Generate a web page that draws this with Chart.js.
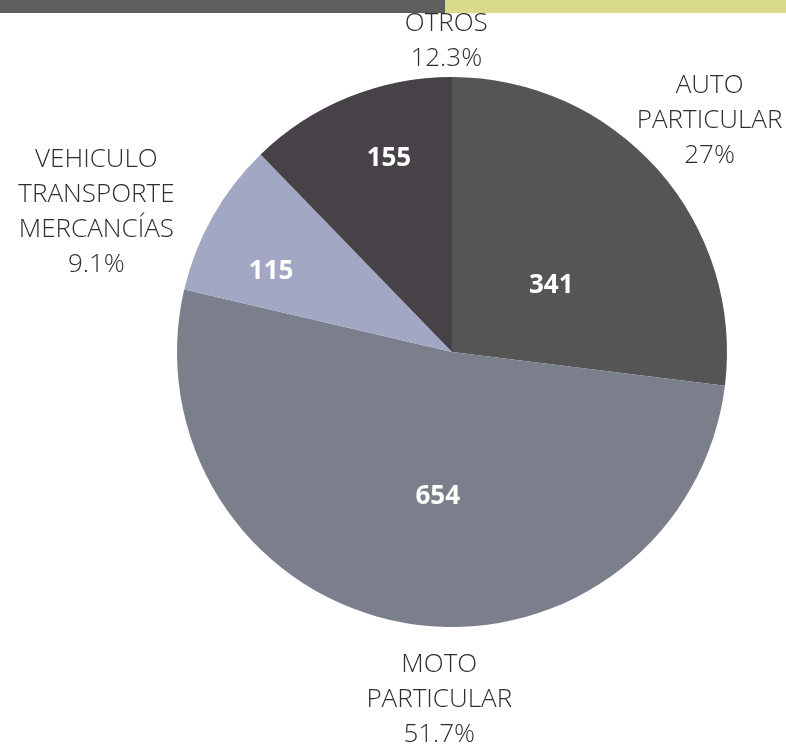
<!DOCTYPE html>
<html>
<head>
<meta charset="utf-8">
<script src="https://cdn.jsdelivr.net/npm/chart.js@4"></script>
<style>
  html, body { margin: 0; padding: 0; background: #fff; }
  #wrap { position: relative; width: 786px; height: 748px; }
  .bar { position: absolute; top: 0; height: 13px; }
</style>
</head>
<body>
<div id="wrap">
  <div class="bar" style="left:0;width:445px;background:#5f5f5f"></div>
  <div class="bar" style="left:445px;width:341px;background:#d9db8b"></div>
  <canvas id="chartVeh" width="786" height="748"></canvas>
</div>
<script>
// datos
const categorias = [["AUTO", "PARTICULAR"], ["MOTO", "PARTICULAR"], ["VEHICULO", "TRANSPORTE", "MERCANCÍAS"], ["OTROS"]];
const valores = [341, 654, 115, 155];
const porcentajes = ["27%", "51.7%", "9.1%", "12.3%"];
const colores = ["#555555", "#7b7f8c", "#a2a8c3", "#464248"];

// ajustes de posicion de etiquetas (grados respecto al angulo medio, fraccion del radio)
const ajusteValor = [[7.5, 0.435], [-4.5, 0.53], [-5.5, 0.72], [4, 0.74]];
const ajusteNombre = [[-0.5, 1.26], [-8, 1.265], [-8, 1.39], [21, 1.13]];

const etiquetasPie = {
  id: "etiquetasPie",
  afterDatasetsDraw(chart) {
    const ctx = chart.ctx;
    const meta = chart.getDatasetMeta(0);
    ctx.save();
    ctx.textAlign = "center";
    ctx.textBaseline = "middle";
    meta.data.forEach((arc, i) => {
      const mid = (arc.startAngle + arc.endAngle) / 2;
      // valor dentro
      let a = mid + ajusteValor[i][0] * Math.PI / 180;
      let r = arc.outerRadius * ajusteValor[i][1];
      ctx.fillStyle = "#ffffff";
      ctx.font = "bold 26px 'Open Sans'";
      ctx.fillText(valores[i], arc.x + Math.cos(a) * r, arc.y + Math.sin(a) * r);
      // nombre fuera
      a = mid + ajusteNombre[i][0] * Math.PI / 180;
      r = arc.outerRadius * ajusteNombre[i][1];
      const lineas = categorias[i].concat([porcentajes[i]]);
      const lh = 35;
      const cx = arc.x + Math.cos(a) * r;
      const cy = arc.y + Math.sin(a) * r - (lineas.length - 1) * lh / 2;
      ctx.fillStyle = "#2e2e2e";
      ctx.font = "300 26px 'Open Sans'";
      lineas.forEach((t, k) => ctx.fillText(t, cx, cy + k * lh));
    });
    ctx.restore();
  },
};

document.addEventListener("DOMContentLoaded", () => {
  new Chart(document.querySelector("#chartVeh"), {
    type: "pie",
    data: {
      labels: categorias.map((c) => c.join(" ")),
      datasets: [
        {
          data: valores,
          backgroundColor: colores,
          borderWidth: 0,
        },
      ],
    },
    options: {
      responsive: false,
      animation: false,
      layout: {
        padding: { left: 176, right: 58, top: 77, bottom: 121 },
      },
      plugins: {
        legend: { display: false },
        tooltip: { enabled: false },
      },
    },
    plugins: [etiquetasPie],
  });
});
</script>
</body>
</html>
